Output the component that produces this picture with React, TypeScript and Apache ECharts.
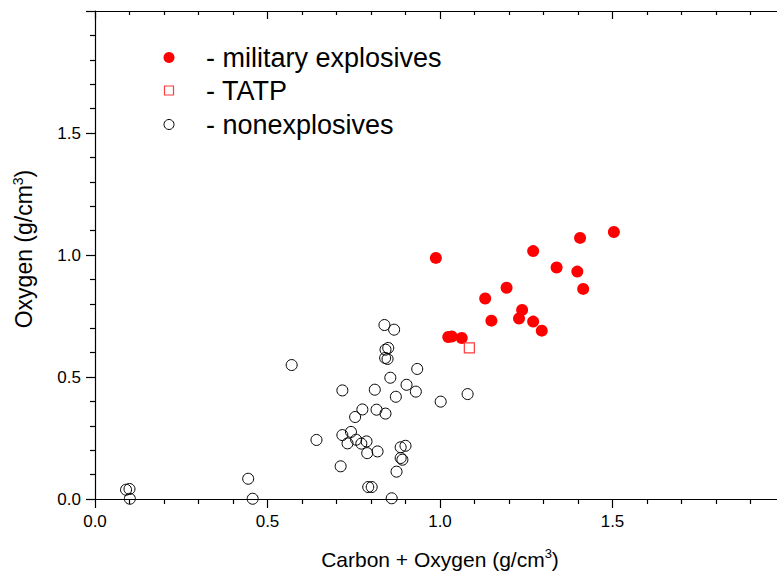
import React, { useEffect, useRef } from "react";
import * as echarts from "echarts";

const militaryX = [0.988, 1.270, 1.406, 1.504, 1.338, 1.398, 1.415, 1.193, 1.131, 1.238, 1.229, 1.149, 1.270, 1.295, 1.024, 1.034, 1.063];
const militaryY = [0.988, 1.016, 1.070, 1.094, 0.949, 0.932, 0.861, 0.866, 0.822, 0.775, 0.740, 0.731, 0.727, 0.690, 0.664, 0.666, 0.660];

const tatpX = [1.085];
const tatpY = [0.619];

const nonX = [0.839, 0.867, 0.842, 0.850, 0.841, 0.848, 0.570, 0.934, 0.856, 0.903, 0.717, 0.811, 0.930, 0.872, 1.002, 1.080, 0.775, 0.816, 0.842, 0.754, 0.642, 0.717, 0.742, 0.732, 0.757, 0.772, 0.787, 0.789, 0.819, 0.886, 0.900, 0.886, 0.891, 0.712, 0.874, 0.792, 0.802, 0.860, 0.100, 0.090, 0.101, 0.444, 0.457];
const nonY = [0.713, 0.694, 0.612, 0.619, 0.578, 0.574, 0.549, 0.533, 0.497, 0.468, 0.445, 0.448, 0.440, 0.419, 0.399, 0.430, 0.367, 0.366, 0.350, 0.336, 0.242, 0.262, 0.275, 0.228, 0.243, 0.227, 0.236, 0.188, 0.195, 0.212, 0.218, 0.168, 0.161, 0.134, 0.112, 0.049, 0.049, 0.003, 0.041, 0.038, 0.001, 0.083, 0.001];

const legendNames = ["- military explosives", "- TATP", "- nonexplosives"];

const FONT = 'Arial, "Liberation Sans", sans-serif';

const zip = (xs: number[], ys: number[]) => xs.map((x, i) => [x, ys[i]]);

export default function App() {
  const ref = useRef<HTMLDivElement>(null);
  useEffect(() => {
    if (!ref.current) return;
    const chart = echarts.init(ref.current, null, { renderer: "svg" });
    const axisLine = { show: true, lineStyle: { color: "#000", width: 1.2 } };
    const option: any = {
      animation: false,
      backgroundColor: "#fff",
      grid: { left: 95, right: -8, top: 11, bottom: 73, outerBoundsMode: "none", containLabel: false },
      xAxis: [
        {
          type: "value",
          min: 0,
          max: 2,
          interval: 0.5,
          position: "bottom",
          axisLine,
          axisTick: { show: true, inside: false, length: 9, lineStyle: { color: "#000", width: 1.2 } },
          minorTick: { show: true, splitNumber: 5, length: 5, lineStyle: { color: "#000", width: 1.2 } },
          splitLine: { show: false },
          axisLabel: {
            show: true,
            color: "#000",
            fontSize: 17,
            fontFamily: FONT,
            margin: 14,
            showMaxLabel: false,
            formatter: (v: number) => v.toFixed(1),
          },
          name: "{a|Carbon + Oxygen (g/cm}{s|3}{a|)}",
          nameLocation: "middle",
          nameGap: 48,
          nameTextStyle: {
            rich: {
              a: { fontSize: 21, fontFamily: FONT, color: "#000" },
              s: { fontSize: 13, fontFamily: FONT, color: "#000", verticalAlign: "top", padding: [0, 0, 11, 0] },
            },
          },
        },
        {
          type: "value",
          min: 0,
          max: 2,
          interval: 0.5,
          position: "top",
          axisLine,
          axisTick: { show: true, inside: true, length: 8, lineStyle: { color: "#000", width: 1.2 } },
          minorTick: { show: true, splitNumber: 5, length: 4, lineStyle: { color: "#000", width: 1.2 } },
          splitLine: { show: false },
          axisLabel: { show: false },
        },
      ],
      yAxis: [
        {
          type: "value",
          min: 0,
          max: 2,
          interval: 0.5,
          position: "left",
          axisLine,
          axisTick: { show: true, inside: false, length: 9, lineStyle: { color: "#000", width: 1.2 } },
          minorTick: { show: true, splitNumber: 5, length: 5, lineStyle: { color: "#000", width: 1.2 } },
          splitLine: { show: false },
          axisLabel: {
            show: true,
            color: "#000",
            fontSize: 17,
            fontFamily: FONT,
            margin: 14,
            showMaxLabel: false,
            formatter: (v: number) => v.toFixed(1),
          },
          name: "{a|Oxygen (g/cm}{s|3}{a|)}",
          nameLocation: "middle",
          nameGap: 58,
          nameRotate: 90,
          nameTextStyle: {
            padding: [0, 0, 0, 12],
            rich: {
              a: { fontSize: 23, fontFamily: FONT, color: "#000" },
              s: { fontSize: 14, fontFamily: FONT, color: "#000", verticalAlign: "top", padding: [0, 0, 12, 0] },
            },
          },
        },
      ],
      graphic: [
        { type: "circle", shape: { cx: 169, cy: 57.5, r: 5.5 }, style: { fill: "#ff0000" } },
        { type: "rect", shape: { x: 164.5, y: 86, width: 9, height: 9 }, style: { fill: "#fff", stroke: "#ff3b3b", lineWidth: 1.2 } },
        { type: "circle", shape: { cx: 169, cy: 124.5, r: 5 }, style: { fill: "#fff", stroke: "#000", lineWidth: 1 } },
        { type: "text", x: 206, y: 57.5, style: { text: legendNames[0], font: `27px ${FONT}`, fill: "#000", verticalAlign: "middle" } },
        { type: "text", x: 206, y: 91, style: { text: legendNames[1], font: `27px ${FONT}`, fill: "#000", verticalAlign: "middle" } },
        { type: "text", x: 206, y: 125, style: { text: legendNames[2], font: `27px ${FONT}`, fill: "#000", verticalAlign: "middle" } },
      ],
      series: [
        {
          name: "nonexplosives",
          type: "scatter",
          symbol: "circle",
          symbolSize: 11,
          itemStyle: { color: "rgba(255,255,255,0)", borderColor: "#000", borderWidth: 1, opacity: 1 },
          data: zip(nonX, nonY),
          z: 2,
        },
        {
          name: "military explosives",
          type: "scatter",
          symbol: "circle",
          symbolSize: 12,
          itemStyle: { color: "#ff0000", opacity: 1 },
          data: zip(militaryX, militaryY),
          z: 3,
        },
        {
          name: "TATP",
          type: "scatter",
          symbol: "rect",
          symbolSize: 10,
          itemStyle: { color: "#fff", borderColor: "#ff3b3b", borderWidth: 1.2, opacity: 1 },
          data: zip(tatpX, tatpY),
          z: 4,
        },
      ],
    };
    chart.setOption(option);
    return () => chart.dispose();
  }, []);
  return (
    <div
      ref={ref}
      style={{ position: "fixed", left: 0, top: 0, width: 777, height: 572, background: "#fff" }}
    />
  );
}
